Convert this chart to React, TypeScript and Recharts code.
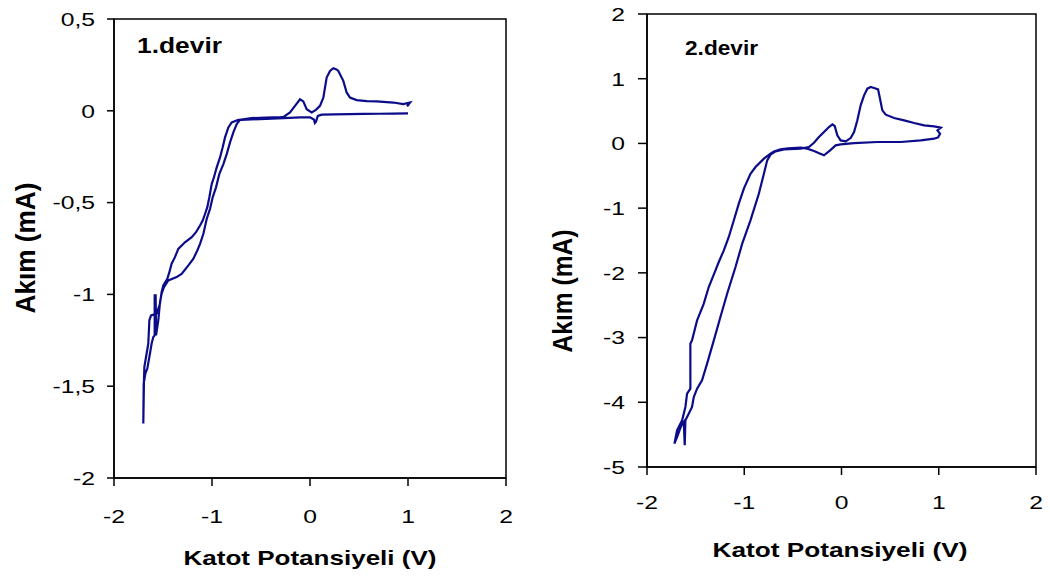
import { LineChart, Line, XAxis, YAxis, Label, ReferenceArea } from 'recharts';

// potential (V) and current (mA) read along the sweep, cycle 1
const cycle1Potential = [
  1.0, 0.85, 0.7, 0.55, 0.4, 0.25, 0.12, 0.08, 0.06, 0.05, 0.04, 0.0, -0.1, -0.27, -0.45, -0.6, -0.7, -0.731,
  -0.799, -0.833, -0.867, -0.891, -0.918, -0.952, -0.98, -1.003, -1.027, -1.048, -1.071, -1.095, -1.122, -1.163,
  -1.207, -1.276, -1.344, -1.378, -1.412, -1.435, -1.456, -1.497, -1.514, -1.531, -1.565, -1.622, -1.639, -1.65,
  -1.673, -1.69, -1.694, -1.701,
  -1.697, -1.68, -1.66, -1.633, -1.616, -1.599, -1.585, -1.585, -1.575, -1.571, -1.548, -1.53, -1.514, -1.49,
  -1.446, -1.361, -1.31, -1.241, -1.19, -1.15, -1.122, -1.088, -1.054, -1.02, -0.993, -0.959, -0.925, -0.884,
  -0.85, -0.816, -0.782, -0.748, -0.714,
  -0.6, -0.45, -0.3, -0.27, -0.204, -0.153, -0.102, -0.068, -0.034, 0.017, 0.06, 0.102, 0.136, 0.17, 0.204, 0.238,
  0.27, 0.289, 0.34, 0.374, 0.408, 0.476, 0.58, 0.68, 0.85, 0.952, 1.02, 0.99, 1.01,
];
const cycle1Current = [
  -0.014, -0.015, -0.016, -0.017, -0.018, -0.019, -0.021, -0.028, -0.06, -0.066, -0.048, -0.036, -0.036, -0.04,
  -0.044, -0.047, -0.049, -0.049,
  -0.063, -0.091, -0.145, -0.199, -0.254, -0.308, -0.362, -0.399, -0.471, -0.525, -0.562, -0.598, -0.625, -0.661,
  -0.688, -0.716, -0.752, -0.797, -0.833, -0.879, -0.915, -0.951, -0.987, -1.051, -1.105, -1.114, -1.141, -1.268,
  -1.341, -1.395, -1.467, -1.703,
  -1.486, -1.431, -1.404, -1.322, -1.268, -1.232, -1.223, -1.005, -1.005, -1.223, -1.141, -1.04, -0.996, -0.96,
  -0.924, -0.906, -0.888, -0.842, -0.806, -0.761, -0.725, -0.67, -0.589, -0.534, -0.471, -0.417, -0.344, -0.29,
  -0.236, -0.172, -0.118, -0.072, -0.049,
  -0.04, -0.037, -0.034, -0.033, -0.009, 0.027, 0.063, 0.051, 0.009, -0.009, 0.005, 0.027, 0.072, 0.181, 0.217,
  0.232, 0.225, 0.217, 0.163, 0.1, 0.072, 0.058, 0.053, 0.051, 0.045, 0.036, 0.045, 0.025, 0.035,
];

// cycle 2
const cycle2Potential = [
  1.004, 0.953, 0.815, 0.609, 0.369, 0.129, -0.009, -0.06, -0.12, -0.18, -0.23, -0.283, -0.352, -0.421, -0.55,
  -0.627, -0.695, -0.73, -0.798, -0.884, -0.936, -1.004, -1.056, -1.107, -1.159, -1.21, -1.262, -1.296, -1.365,
  -1.416, -1.485, -1.537, -1.554, -1.554, -1.588, -1.605, -1.639, -1.691, -1.718,
  -1.684, -1.65, -1.622, -1.612, -1.605, -1.588, -1.571, -1.537, -1.519, -1.485, -1.434, -1.382, -1.313, -1.245,
  -1.176, -1.09, -1.021, -0.936, -0.85, -0.798, -0.764, -0.73, -0.678, -0.592, -0.421,
  -0.335, -0.283, -0.232, -0.18, -0.129, -0.094, -0.07, -0.043, -0.009, 0.043, 0.094, 0.129, 0.163, 0.197, 0.232,
  0.266, 0.3, 0.335, 0.376, 0.396, 0.42, 0.455, 0.541, 0.644, 0.747, 0.85, 0.953, 1.021, 0.987, 1.014, 0.994,
];
const cycle2Current = [
  0.099, 0.073, 0.047, 0.022, 0.022, 0.006, -0.014, -0.03, -0.11, -0.184, -0.15, -0.117, -0.081, -0.066, -0.075,
  -0.092, -0.123, -0.159, -0.236, -0.365, -0.468, -0.699, -0.931, -1.188, -1.446, -1.652, -1.832, -1.961, -2.219,
  -2.476, -2.734, -3.043, -3.094, -3.789, -3.867, -4.073, -4.278, -4.433, -4.639,
  -4.511, -4.367, -4.305, -4.665, -4.279, -4.227, -4.176, -4.073, -3.918, -3.789, -3.661, -3.403, -3.043, -2.682,
  -2.322, -1.91, -1.549, -1.188, -0.778, -0.468, -0.261, -0.174, -0.123, -0.092, -0.081,
  -0.056, 0.011, 0.099, 0.176, 0.253, 0.295, 0.269, 0.125, 0.047, 0.032, 0.083, 0.176, 0.357, 0.588, 0.743,
  0.846, 0.872, 0.856, 0.835, 0.691, 0.511, 0.444, 0.393, 0.357, 0.315, 0.279, 0.264, 0.243, 0.202, 0.15, 0.099,
];

const potentialTicks = [-2, -1, 0, 1, 2];
const cycle1Ticks = [-2, -1.5, -1, -0.5, 0, 0.5];
const cycle2Ticks = [-5, -4, -3, -2, -1, 0, 1, 2];

const FONT = 'Liberation Sans, Arial, sans-serif';
const LINE_COLOR = '#0c0c8a';
const axisStyle = { stroke: '#000', strokeWidth: 1.5 };
// the source picture is a bit stretched sideways, text included
const STRETCH = 1.3;

const comma = (v: number) => String(v).replace('.', ',');

const tickText = (props: any, anchor: string, dy: string) => (
  <text
    transform={`translate(${props.x}, ${props.y}) scale(${STRETCH}, 1)`}
    dy={dy}
    textAnchor={anchor}
    fontSize={19}
    fontFamily={FONT}
    fill="#000"
  >
    {comma(props.payload.value)}
  </text>
);
const xTick = (props: any) => tickText(props, 'middle', '0.71em');
const yTick = (props: any) => tickText(props, 'end', '0.36em');

const boldText = (x: number, y: number, text: string, size: number, length: number, anchor = 'middle', rotate = false) => (
  <text
    x={x}
    y={y}
    textAnchor={anchor}
    fontFamily={FONT}
    fontWeight="bold"
    fontSize={size}
    fill="#000"
    textLength={length}
    lengthAdjust="spacingAndGlyphs"
    transform={rotate ? `rotate(-90, ${x}, ${y})` : undefined}
  >
    {text}
  </text>
);

interface PanelProps {
  potential: number[];
  current: number[];
  yTicks: number[];
  width: number;
  margin: { top: number; right: number; bottom: number; left: number };
  xTickMargin: number;
  yTickSize: number;
  yTickMargin: number;
  xLabel: [number, number, number];
  yLabel: [number, number, number];
  title: [number, number, number, number, string];
}

function Panel(p: PanelProps) {
  const data = p.potential.map((v, k) => ({ v, i: p.current[k] }));
  const yMin = p.yTicks[0];
  const yMax = p.yTicks[p.yTicks.length - 1];
  return (
    <LineChart width={p.width} height={585} data={data} margin={p.margin}>
      <XAxis
        dataKey="v"
        type="number"
        domain={[-2, 2]}
        ticks={potentialTicks}
        axisLine={axisStyle}
        tickLine={axisStyle}
        tickSize={8}
        tickMargin={p.xTickMargin}
        tick={xTick}
        height={60}
      >
        <Label content={() => boldText(p.xLabel[0], p.xLabel[1], 'Katot Potansiyeli (V)', 21, p.xLabel[2])} />
      </XAxis>
      <YAxis
        type="number"
        domain={[yMin, yMax]}
        ticks={p.yTicks}
        axisLine={axisStyle}
        tickLine={axisStyle}
        tickSize={p.yTickSize}
        tickMargin={p.yTickMargin}
        tick={yTick}
        width={70}
      >
        <Label content={() => boldText(p.yLabel[0], p.yLabel[1], 'Akım (mA)', 28, p.yLabel[2], 'middle', true)} />
      </YAxis>
      <ReferenceArea
        x1={-2}
        x2={2}
        y1={yMin}
        y2={yMax}
        fill="none"
        stroke="#000"
        strokeWidth={1.5}
        ifOverflow="visible"
      >
        <Label content={() => boldText(p.title[0], p.title[1], p.title[4], p.title[2], p.title[3], 'start')} />
      </ReferenceArea>
      <Line
        type="linear"
        dataKey="i"
        stroke={LINE_COLOR}
        strokeWidth={2.2}
        dot={false}
        isAnimationActive={false}
      />
    </LineChart>
  );
}

export default function App() {
  return (
    <div style={{ position: 'absolute', left: 0, top: 0, width: 1050, height: 585, background: '#fff', fontFamily: FONT }}>
      <div style={{ position: 'absolute', left: 0, top: 0 }}>
        <Panel
          potential={cycle1Potential}
          current={cycle1Current}
          yTicks={cycle1Ticks}
          width={530}
          margin={{ top: 19, right: 24, bottom: 47, left: 44 }}
          xTickMargin={24}
          yTickSize={7}
          yTickMargin={12}
          xLabel={[310, 565, 253]}
          yLabel={[35, 248, 131]}
          title={[137, 53, 22, 85, '1.devir']}
        />
      </div>
      <div style={{ position: 'absolute', left: 530, top: 0 }}>
        <Panel
          potential={cycle2Potential}
          current={cycle2Current}
          yTicks={cycle2Ticks}
          width={520}
          margin={{ top: 14, right: 14, bottom: 58, left: 47 }}
          xTickMargin={21}
          yTickSize={9}
          yTickMargin={13}
          xLabel={[310, 557, 255]}
          yLabel={[42, 291, 123]}
          title={[155, 55, 21, 73, '2.devir']}
        />
      </div>
    </div>
  );
}
